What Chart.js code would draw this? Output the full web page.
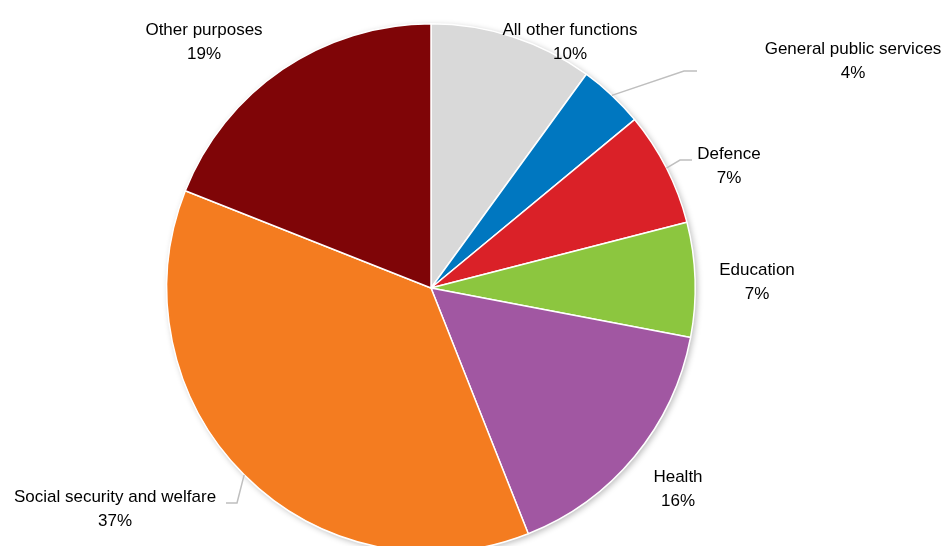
<!DOCTYPE html>
<html>
<head>
<meta charset="utf-8">
<script src="https://cdn.jsdelivr.net/npm/chart.js@4.4.1/dist/chart.umd.min.js"></script>
<style>
  html, body { margin: 0; padding: 0; background: #fff; overflow: hidden; }
  #wrap { width: 946px; height: 580px; }
</style>
</head>
<body>
<div id="wrap"><canvas id="pie"></canvas></div>
<script>
// Spending shares by function
const labels = ['All other functions', 'General public services', 'Defence', 'Education',
  'Health', 'Social security and welfare', 'Other purposes'];
const shares = [10, 4, 7, 7, 16, 37, 19];
const colours = ['#D9D9D9', '#0077C0', '#DA2128', '#8CC63F', '#A157A2', '#F47C20', '#7F0507'];

// label centre (first line) relative to the pie centre
const labelPlace = [
  { dx: 139, dy: -258 },
  { dx: 422, dy: -239 },
  { dx: 298, dy: -134 },
  { dx: 326, dy: -18 },
  { dx: 247, dy: 189 },
  { dx: -316, dy: 209 },
  { dx: -227, dy: -258 }
];
// leader lines: [elbow, end] relative to centre, start is on the arc edge
const leaders = {
  1: [[253, -217], [266, -217]],
  2: [[249, -128], [261, -128]],
  5: [[-194, 215], [-205, 215]]
};

const FONT = '"Liberation Sans Narrow", "Arial Narrow", "Liberation Sans", Arial, sans-serif';

const labelPlugin = {
  id: 'sliceLabels',
  beforeDatasetsDraw(chart) {
    // soft shadow under the whole pie
    const arc = chart.getDatasetMeta(0).data[0];
    const ctx = chart.ctx;
    ctx.save();
    ctx.shadowColor = 'rgba(0,0,0,0.28)';
    ctx.shadowBlur = 6;
    ctx.shadowOffsetX = 2;
    ctx.shadowOffsetY = 2;
    ctx.fillStyle = '#fff';
    ctx.beginPath();
    ctx.arc(arc.x, arc.y, arc.outerRadius, 0, Math.PI * 2);
    ctx.fill();
    ctx.restore();
  },
  afterDatasetsDraw(chart) {
    const ctx = chart.ctx;
    const meta = chart.getDatasetMeta(0);
    ctx.save();
    ctx.font = '17px ' + FONT;
    ctx.fillStyle = '#000';
    ctx.textAlign = 'center';
    ctx.textBaseline = 'middle';
    meta.data.forEach((a, i) => {
      const cx = a.x, cy = a.y;
      const lx = cx + labelPlace[i].dx, ly = cy + labelPlace[i].dy;
      ctx.fillText(labels[i], lx, ly);
      ctx.fillText(shares[i] + '%', lx, ly + 24);
      if (leaders[i]) {
        const mid = (a.startAngle + a.endAngle) / 2;
        const r = a.outerRadius;
        ctx.strokeStyle = '#BFBFBF';
        ctx.lineWidth = 1.5;
        ctx.beginPath();
        ctx.moveTo(cx + Math.cos(mid) * r, cy + Math.sin(mid) * r);
        leaders[i].forEach(p => ctx.lineTo(cx + p[0], cy + p[1]));
        ctx.stroke();
      }
    });
    ctx.restore();
  }
};

new Chart(document.getElementById('pie'), {
  type: 'pie',
  data: {
    labels: labels,
    datasets: [{
      data: shares,
      backgroundColor: colours,
      borderColor: '#fff',
      borderWidth: 1.5
    }]
  },
  options: {
    responsive: true,
    maintainAspectRatio: false,
    animation: false,
    layout: { padding: { left: 166, right: 250, top: 23, bottom: 27 } },
    plugins: {
      legend: { display: false },
      tooltip: { enabled: false }
    }
  },
  plugins: [labelPlugin]
});
</script>
</body>
</html>
